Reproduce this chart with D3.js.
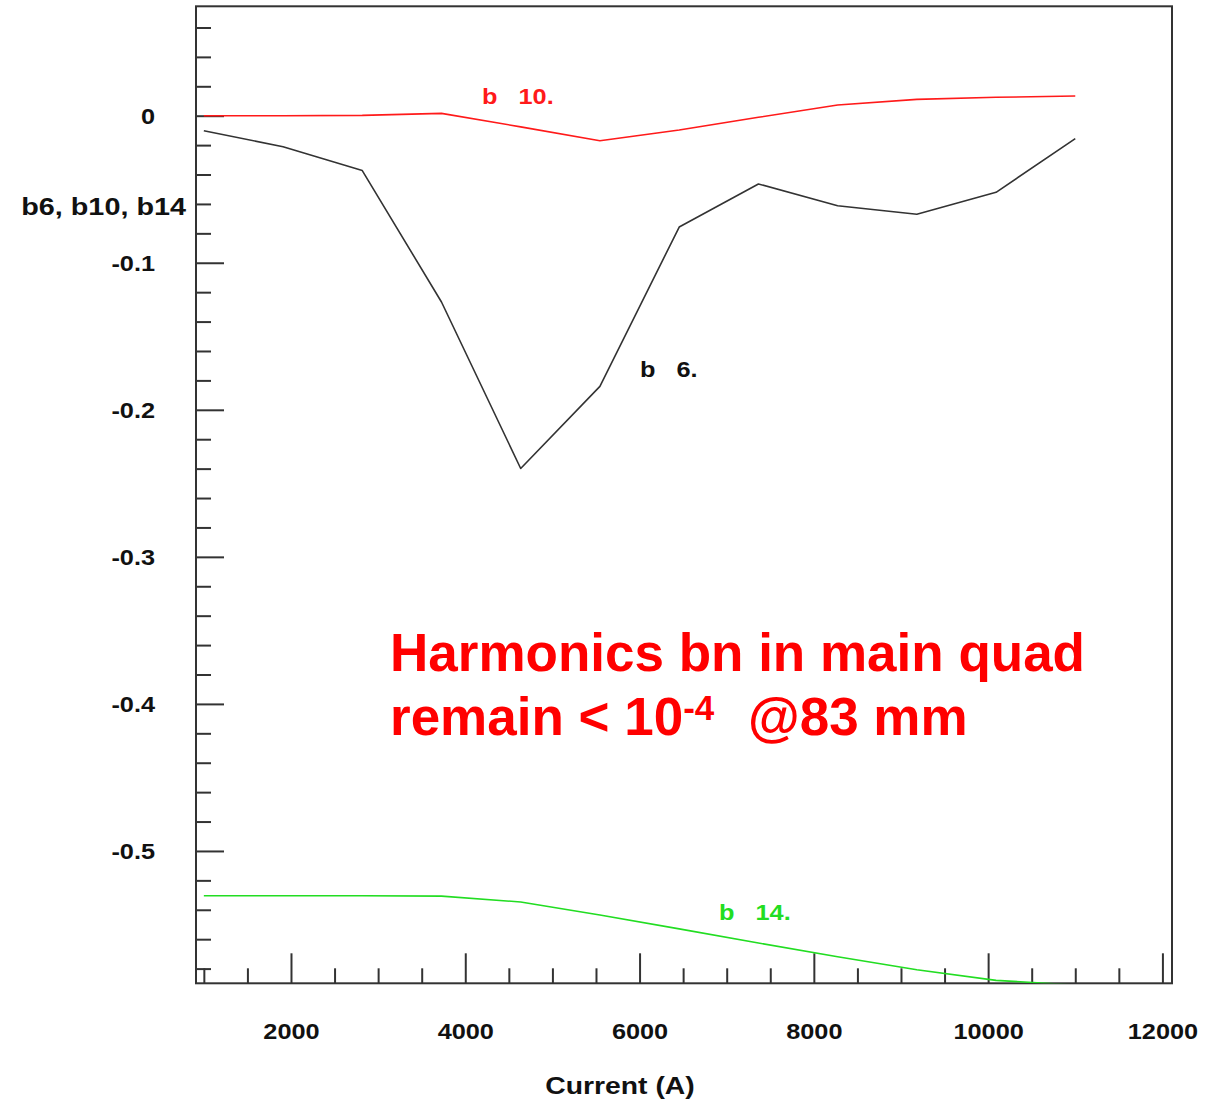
<!DOCTYPE html>
<html>
<head>
<meta charset="utf-8">
<script src="https://cdn.jsdelivr.net/npm/d3@7"></script>
<style>
  html, body { margin: 0; padding: 0; background: #fff; }
  svg { display: block; }
  text { font-family: "Liberation Sans", Arial, sans-serif; font-weight: bold; }
</style>
</head>
<body>
<svg id="chart" width="1225" height="1101"></svg>
<script>
// Excitation current (A) at which the harmonics were computed
const current = [1000, 1909, 2818, 3727, 4636, 5545, 6455, 7364, 8273, 9182, 10091, 11000];

// Normalised multipole harmonics (units of 1e-4)
const b6  = [-0.0102, -0.0211, -0.0373, -0.1267, -0.2399, -0.1841, -0.0757, -0.0464, -0.0612, -0.0670, -0.0521, -0.0156];
const b10 = [0.0000, 0.0000, 0.0002, 0.0016, -0.0076, -0.0170, -0.0097, -0.0011, 0.0073, 0.0111, 0.0125, 0.0134];
const b14 = [-0.5305, -0.5305, -0.5305, -0.5307, -0.5347, -0.5435, -0.5530, -0.5626, -0.5719, -0.5808, -0.5880, -0.5912];

// Axis ticks
const xMajorTicks = [2000, 4000, 6000, 8000, 10000, 12000];
const xMinorTicks = d3.range(1000, 12001, 500).filter(v => v % 2000 !== 0);
const yMajorTicks = [0, -0.1, -0.2, -0.3, -0.4, -0.5];
const yMinorTicks = d3.range(-58, 7, 2).map(v => v / 100).filter(v => Math.abs(Math.round(v * 100)) % 10 !== 0);
const yTickLabels = ["0", "-0.1", "-0.2", "-0.3", "-0.4", "-0.5"];

// Curve annotations: [text, current, value]
const seriesNames = ["b   10.", "b   6.", "b   14."];
const labelCurrent = [4192, 6005, 6912];
const labelValue = [0.0134, -0.1722, -0.5415];

const colors = { b6: "#333333", b10: "#ff1a1a", b14: "#22dd22" };

const svg = d3.select("#chart");
const plotL = 196, plotR = 1172, plotT = 6.3, plotB = 983.3;

const x = d3.scaleLinear().domain([910, 12110]).range([plotL, plotR]);
const y = d3.scaleLinear().domain([-0.59, 0.0744]).range([plotB, plotT]);

const SX = 1.15; // horizontal stretch of the plot lettering

// clip for the data lines
svg.append("defs").append("clipPath").attr("id", "plotClip")
  .append("rect").attr("x", plotL).attr("y", plotT).attr("width", plotR - plotL).attr("height", plotB - plotT);

// minor ticks
svg.append("g").attr("transform", `translate(${plotL},0)`)
  .call(d3.axisLeft(y).tickValues(yMinorTicks).tickSize(-15).tickFormat(""))
  .call(g => g.select(".domain").remove());
svg.append("g").attr("transform", `translate(0,${plotB})`)
  .call(d3.axisBottom(x).tickValues(xMinorTicks).tickSize(-15).tickFormat(""))
  .call(g => g.select(".domain").remove());

// major ticks with labels
const yAxis = svg.append("g").attr("transform", `translate(${plotL},0)`)
  .call(d3.axisLeft(y).tickValues(yMajorTicks).tickSize(-28)
    .tickFormat((d, i) => yTickLabels[i]))
  .call(g => g.select(".domain").remove());
yAxis.selectAll("text")
  .attr("x", -41 / SX).attr("dy", "0.36em")
  .attr("transform", `scale(${SX},1)`)
  .style("font-size", "22px").attr("fill", "#111");

const xAxis = svg.append("g").attr("transform", `translate(0,${plotB})`)
  .call(d3.axisBottom(x).tickValues(xMajorTicks).tickSize(-30).tickFormat(d3.format("d")))
  .call(g => g.select(".domain").remove());
xAxis.selectAll("text")
  .attr("y", 56).attr("dy", 0)
  .attr("transform", `scale(${SX},1)`)
  .attr("x", 0)
  .style("font-size", "22px").attr("fill", "#111");

svg.selectAll(".tick line").attr("stroke", "#333").attr("stroke-width", 2);
svg.selectAll(".tick text").style("font-family", "'Liberation Sans', Arial, sans-serif").style("font-weight", "bold");

// frame
svg.append("rect")
  .attr("x", plotL).attr("y", plotT).attr("width", plotR - plotL).attr("height", plotB - plotT)
  .attr("fill", "none").attr("stroke", "#333").attr("stroke-width", 2);

// data lines
const line = d3.line().x((d, i) => x(current[i])).y(d => y(d));
const plot = svg.append("g").attr("clip-path", "url(#plotClip)");
[[b10, colors.b10], [b6, colors.b6], [b14, colors.b14]].forEach(([vals, c]) => {
  plot.append("path").datum(vals)
    .attr("d", line)
    .attr("fill", "none")
    .attr("stroke", c)
    .attr("stroke-width", 1.6)
    .attr("stroke-linejoin", "round");
});

// stretched text helper
function label(px, py, str, size, fill, anchor, sx) {
  const g = svg.append("g").attr("transform", `translate(${px},${py}) scale(${sx},1)`);
  g.append("text")
    .attr("x", 0).attr("y", 0).attr("dy", "0.36em")
    .attr("text-anchor", anchor)
    .style("font-size", size + "px")
    .style("white-space", "pre")
    .attr("fill", fill)
    .text(str);
}

// curve annotations
const labelColors = [colors.b10, "#111", colors.b14];
seriesNames.forEach((s, i) => {
  label(x(labelCurrent[i]), y(labelValue[i]), s, 22, labelColors[i], "start", SX);
});

// axis titles
label(186, 206, "b6, b10, b14", 24, "#111", "end", 1.2);
label(620, 1085, "Current (A)", 24, "#111", "middle", 1.18);

// headline note
const note = svg.append("g").attr("fill", "#ff0000").style("font-size", "53px");
note.append("text").attr("x", 390).attr("y", 671).text("Harmonics bn in main quad");
const l2 = note.append("text").attr("x", 390).attr("y", 735);
l2.append("tspan").text("remain < 10");
l2.append("tspan").attr("dy", -15).style("font-size", "35px").text("-4");
l2.append("tspan").attr("x", 748).attr("dy", 15).text("@83 mm");
</script>
</body>
</html>
